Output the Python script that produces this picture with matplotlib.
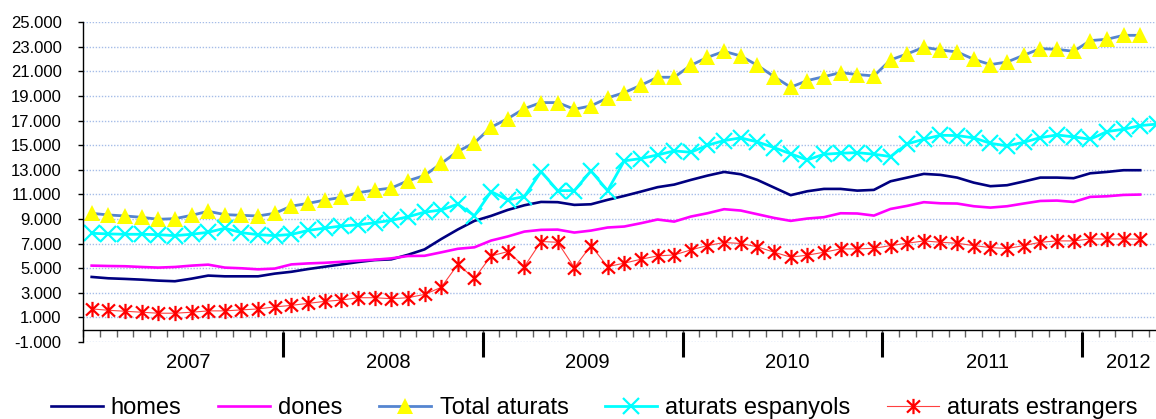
import numpy as np
import matplotlib
matplotlib.use('Agg')
import matplotlib.pyplot as plt
from matplotlib.path import Path
from matplotlib.ticker import FuncFormatter, FixedLocator
import matplotlib.transforms as mtransforms

plt.rcParams['font.family'] = ['Liberation Sans', 'DejaVu Sans']

# ---------------- data ----------------
years = ['2007', '2008', '2009', '2010', '2011', '2012']
months_per_year = [12, 12, 12, 12, 12, 5]

homes = [4290, 4180, 4130, 4070, 3990, 3940, 4150, 4400, 4340, 4340, 4340, 4560,
         4710, 4930, 5120, 5310, 5500, 5660, 5720, 6090, 6530, 7370, 8150, 8850,
         9255, 9740, 10120, 10390, 10370, 10150, 10200, 10560, 10880, 11230, 11590, 11800,
         12180, 12530, 12830, 12640, 12180, 11560, 10940, 11260, 11450, 11450, 11310, 11370,
         12070, 12370, 12670, 12590, 12370, 11960, 11670, 11750, 12050, 12370, 12370, 12320,
         12720, 12830, 12970, 12970]

dones = [5210, 5180, 5160, 5100, 5050, 5100, 5210, 5290, 5050, 4995, 4910, 4970,
         5310, 5390, 5440, 5520, 5610, 5690, 5800, 5990, 6010, 6290, 6580, 6700,
         7250, 7580, 7980, 8120, 8140, 7900, 8060, 8310, 8390, 8660, 8960, 8790,
         9200, 9470, 9800, 9690, 9390, 9090, 8850, 9040, 9150, 9470, 9450, 9280,
         9820, 10070, 10370, 10280, 10260, 10040, 9930, 10040, 10260, 10470, 10500, 10390,
         10800, 10850, 10960, 10990]

total_aturats = [9466, 9330, 9250, 9140, 8980, 9030, 9300, 9630, 9360, 9300, 9250, 9466,
                 10050, 10270, 10540, 10760, 11140, 11350, 11520, 12110, 12540, 13520, 14500, 15200,
                 16460, 17170, 17980, 18470, 18470, 17930, 18200, 18850, 19280, 19880, 20530, 20530,
                 21500, 22150, 22640, 22260, 21500, 20580, 19720, 20260, 20580, 20910, 20750, 20640,
                 21940, 22430, 22970, 22750, 22590, 21990, 21560, 21770, 22320, 22860, 22800, 22640,
                 23510, 23620, 23940, 23940]

aturats_espanyols = [7840, 7790, 7760, 7760, 7730, 7650, 7760, 7920, 8250, 7890, 7730, 7650,
                     7750, 8070, 8260, 8430, 8530, 8700, 8890, 9180, 9560, 9730, 10210, 9270,
                     11230, 10560, 10830, 12860, 11310, 11310, 12910, 11310, 13730, 13920, 14210, 14540,
                     14430, 15000, 15380, 15600, 15270, 14810, 14300, 13810, 14270, 14350, 14400, 14270,
                     14080, 15110, 15490, 15810, 15790, 15600, 15160, 14950, 15240, 15620, 15840, 15680,
                     15490, 16110, 16300, 16600, 16720]

aturats_estrangers = [1690, 1580, 1500, 1420, 1340, 1340, 1420, 1530, 1530, 1610, 1690, 1850,
                      1980, 2140, 2300, 2410, 2600, 2600, 2520, 2600, 2870, 3440, 5310, 4170,
                      6000, 6350, 5130, 7170, 7110, 5050, 6840, 5130, 5410, 5730, 6000, 6080,
                      6490, 6840, 7090, 7010, 6740, 6300, 5900, 6060, 6300, 6570, 6570, 6620,
                      6840, 7030, 7220, 7110, 7030, 6840, 6680, 6600, 6840, 7110, 7220, 7220,
                      7380, 7380, 7380, 7360]

y_ticks = list(range(-1000, 25001, 2000))

# ---------------- figure ----------------
fig = plt.figure(figsize=(11.56, 4.19), dpi=100)
ax = fig.add_axes([0.0721, 0.1838, 0.9279, 0.763])

asterisk = Path([(0, -1), (0, 1), (-0.85, -0.8), (0.85, 0.8), (-0.85, 0.8), (0.85, -0.8)],
                [Path.MOVETO, Path.LINETO, Path.MOVETO, Path.LINETO, Path.MOVETO, Path.LINETO])

def xs(s):
    return np.arange(len(s))

h1, = ax.plot(xs(homes), homes, color='#000080', lw=1.9, label='homes')
h2, = ax.plot(xs(dones), dones, color='#ff00ff', lw=1.9, label='dones')
h3, = ax.plot(xs(total_aturats), total_aturats, color='#5585d0', lw=2.0,
              marker='^', markersize=11.2, markerfacecolor='#ffff00',
              markeredgecolor='#ffff00', markeredgewidth=0, label='Total aturats')
h4, = ax.plot(xs(aturats_espanyols), aturats_espanyols, color='#00ffff', lw=2.0,
              marker='x', markersize=11, markeredgewidth=1.6, markeredgecolor='#00ffff',
              label='aturats espanyols')
h5, = ax.plot(xs(aturats_estrangers), aturats_estrangers, color='#ff4040', lw=0.8,
              marker=asterisk, markersize=11, markeredgewidth=1.6, markeredgecolor='#ff0000',
              markerfacecolor='none', label='aturats estrangers')

# axes limits
ax.set_xlim(-0.5, 63.95)
ax.set_ylim(-1000, 25000)

# y axis
ax.set_yticks(y_ticks)
ax.yaxis.set_major_formatter(FuncFormatter(lambda v, p: f"{int(v):,}".replace(',', '.')))
ax.tick_params(axis='y', which='major', length=3.6, width=1, pad=12, labelsize=12,
               colors='black')
ax.yaxis.grid(True, color='#a6bde8', linestyle=(0, (1, 1.2)), lw=1.0)
ax.set_axisbelow(True)

# x axis at zero with month ticks
ax.spines['top'].set_visible(False)
ax.spines['right'].set_visible(False)
ax.spines['bottom'].set_position(('data', 0))
ax.spines['bottom'].set_color('black')
ax.spines['left'].set_color('black')
ax.spines['bottom'].set_linewidth(1)
ax.spines['left'].set_linewidth(1)
ax.set_xticks([])
n_total = sum(months_per_year)
ax.xaxis.set_minor_locator(FixedLocator(np.arange(-0.5, n_total + 0.5, 1)))
ax.tick_params(axis='x', which='minor', direction='out', length=4.8, width=1, color='#606060')

# year separators and labels
blend = mtransforms.blended_transform_factory(ax.transData, ax.transAxes)
start = 0
for yr, n in zip(years, months_per_year):
    ax.text(start + n / 2 - 0.5 + 0.3, -0.0626, yr, transform=blend, ha='center', va='center',
            fontsize=14.5)
    start += n
    if start < n_total:
        ax.plot([start - 0.5, start - 0.5], [0.032, -0.048], transform=blend,
                color='black', lw=2.2, clip_on=False, solid_capstyle='butt')

# legend
fig.legend(handles=[h1, h2, h3, h4, h5], loc='center', bbox_to_anchor=(0.514, 0.026),
           ncol=5, frameon=False, fontsize=17, handlelength=2.2, handletextpad=0.35,
           columnspacing=1.55, numpoints=1, borderpad=0, borderaxespad=0)

fig.savefig('out.png', dpi=100)
